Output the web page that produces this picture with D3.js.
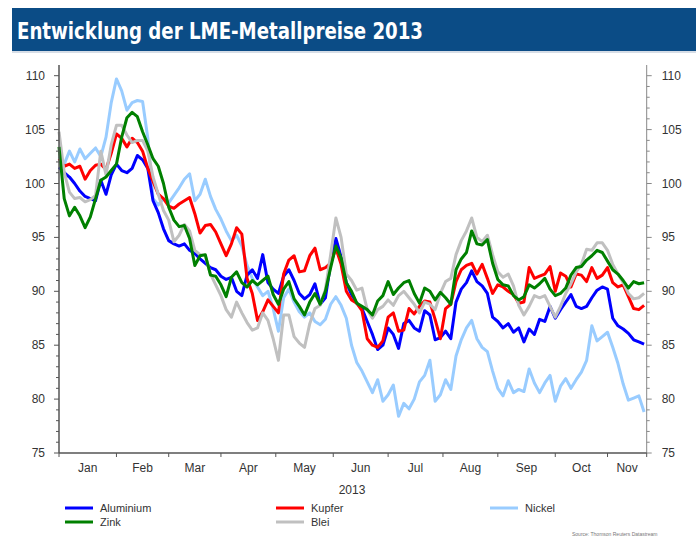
<!DOCTYPE html>
<html><head><meta charset="utf-8">
<script src="https://cdn.jsdelivr.net/npm/d3@7"></script>
<style>body{margin:0;background:#fff}svg{display:block}</style>
</head><body>
<script>
// ---- data (index = trading-day / 2) ----
const STEP = 2; // trading days between samples
const monthLabels = ["Jan","Feb","Mar","Apr","May","Jun","Jul","Aug","Sep","Oct","Nov"];
const monthStarts = [0,22,42,62,83,105,126,147,168,190,210];
const lastDay = 225;
const yTicks = [75,80,85,90,95,100,105,110];
const seriesNames = ["Aluminium","Kupfer","Nickel","Zink","Blei"];
const seriesColors = ["#0000ff","#ff0000","#99ccff","#008000","#c0c0c0"];

const aluminium = [101.5,101.0,100.6,100.0,99.3,98.8,98.6,98.4,100.3,99.0,100.8,101.8,101.2,101.0,101.4,102.6,102.2,101.4,98.4,97.3,95.8,94.7,94.4,94.2,94.4,93.8,93.5,93.0,92.6,92.2,92.0,91.4,91.1,91.3,90.0,89.6,91.5,92.0,91.2,93.4,90.8,90.2,89.8,91.4,92.0,91.0,89.8,89.3,89.7,90.7,88.8,89.4,92.6,94.9,93.2,90.8,89.7,88.9,88.4,87.2,86.0,84.6,85.0,86.6,86.0,84.7,87.0,87.3,86.6,86.3,88.2,87.8,85.5,85.7,86.3,85.6,89.0,90.2,90.8,91.9,90.9,90.5,89.8,87.6,87.2,86.6,87.0,86.2,86.6,85.3,86.5,86.0,87.4,87.2,88.6,87.5,88.3,89.0,89.7,88.6,88.4,88.6,89.4,90.1,90.4,90.2,87.5,86.8,86.5,86.1,85.5,85.3,85.1];
const kupfer = [102.3,101.6,101.8,101.4,101.6,100.4,101.2,101.7,101.8,101.3,102.8,104.6,104.2,103.4,104.2,103.8,103.0,101.4,100.2,99.0,98.6,97.9,97.7,98.1,98.4,98.7,97.2,95.4,96.1,96.2,95.5,94.4,93.3,94.4,95.9,95.3,91.2,89.8,87.3,88.1,89.2,88.6,88.0,91.6,92.9,93.3,91.8,91.9,93.3,94.0,92.0,92.2,92.6,94.0,92.5,90.0,89.2,88.9,88.2,85.6,85.0,84.8,85.4,87.6,88.0,86.3,86.4,88.4,87.9,88.6,89.1,89.0,87.4,85.6,88.4,88.8,90.9,92.0,92.4,92.6,91.6,92.5,91.2,89.8,90.6,90.4,90.0,89.7,88.9,89.0,92.2,91.2,91.4,91.6,92.3,90.0,91.7,91.4,90.4,91.6,91.5,90.9,92.2,91.2,91.5,92.2,90.8,90.4,90.6,89.5,88.4,88.3,88.7];
const nickel = [102.5,101.8,103.0,102.0,103.2,102.3,102.8,103.3,102.5,104.3,107.5,109.7,108.6,106.8,107.5,107.7,107.6,104.2,98.6,98.0,98.6,98.2,98.9,99.6,100.4,100.9,98.4,99.0,100.4,98.8,97.6,96.7,95.6,94.7,95.2,94.2,92.4,91.2,90.4,89.6,90.0,88.4,86.3,89.4,90.2,89.0,88.1,87.6,88.0,87.2,86.9,87.4,88.8,89.5,88.7,87.5,85.0,83.4,82.6,81.6,80.6,81.8,79.8,80.4,81.3,78.4,79.6,79.1,80.0,81.6,82.2,83.6,79.8,80.4,81.8,80.9,84.0,85.5,86.6,87.3,85.6,84.8,84.4,82.6,81.0,80.3,81.7,80.6,80.9,80.7,82.8,81.5,80.6,81.5,82.2,79.8,81.2,81.9,81.0,81.8,82.5,83.6,86.8,85.4,85.8,86.2,84.8,83.3,81.4,79.9,80.1,80.3,78.8];
const zink = [103.4,98.6,97.0,97.8,97.0,95.9,96.9,98.6,100.3,100.6,101.2,101.8,104.3,106.1,106.6,106.2,104.8,103.6,102.3,101.6,100.0,97.8,96.6,96.0,96.1,94.9,92.4,93.3,93.4,91.5,91.4,90.6,89.5,91.3,91.8,90.8,90.4,91.0,90.6,91.0,91.4,89.7,88.8,90.2,90.9,89.3,88.6,87.8,89.0,89.8,88.8,90.0,92.2,94.2,93.1,90.8,90.0,88.9,88.6,88.3,87.8,89.1,89.6,90.9,89.7,90.3,90.8,91.0,89.8,88.9,90.3,90.0,89.2,89.9,89.4,88.8,92.0,93.0,93.6,95.6,94.4,94.3,94.8,92.6,91.1,90.6,90.5,89.6,89.2,89.5,90.6,90.3,90.7,91.2,90.2,89.6,89.8,90.3,91.5,92.2,92.3,92.9,93.3,93.8,93.6,92.8,92.0,91.6,91.0,90.3,90.9,90.7,90.8];
const blei = [104.8,101.0,99.2,98.6,98.7,98.3,98.5,98.9,103.0,100.8,103.6,105.4,105.4,104.5,103.8,104.0,104.0,103.0,100.6,99.0,97.5,96.6,94.6,95.2,96.2,95.6,93.8,93.4,93.3,91.6,90.6,89.6,88.3,87.6,89.0,88.0,87.1,86.4,86.6,88.0,87.3,85.6,83.6,87.8,87.8,85.8,85.2,84.8,87.0,88.4,88.7,90.2,93.4,96.8,95.0,91.6,91.0,90.1,90.3,88.3,87.5,88.3,88.6,89.2,88.7,89.6,90.0,89.4,88.8,88.0,89.0,88.8,88.3,89.8,90.9,91.2,93.4,94.7,95.6,96.8,95.0,94.6,95.2,93.4,91.8,91.3,91.6,90.5,88.7,87.8,88.6,89.6,89.4,89.6,88.6,87.6,88.6,89.8,90.7,91.8,92.5,93.9,93.8,94.5,94.5,93.8,92.5,91.6,90.8,89.8,89.3,89.4,89.8];
const seriesData = [aluminium,kupfer,nickel,zink,blei];

// ---- drawing ----
const W = 696, H = 539;
const svg = d3.select("body").append("svg").attr("width",W).attr("height",H);

// title bar
svg.append("rect").attr("x",12).attr("y",51).attr("width",W-12).attr("height",2).attr("fill","#d6dde6");
svg.append("rect").attr("x",12).attr("y",8).attr("width",W-12).attr("height",43).attr("fill","#0b4c86");
svg.append("text").attr("x",17).attr("y",39)
  .attr("font-family","'Liberation Sans Narrow','DejaVu Sans Condensed','Roboto Condensed',Arial,sans-serif")
  .attr("font-weight","bold").attr("font-size",23).attr("fill","#fff")
  .attr("textLength",406).attr("lengthAdjust","spacingAndGlyphs")
  .text("Entwicklung der LME-Metallpreise 2013");

const x = d3.scaleLinear().domain([0,lastDay]).range([59,646.7]);
const y = d3.scaleLinear().domain([75,110]).range([453,75.7]);
const axisColor = "#555";
const font = "Arial, 'Liberation Sans', sans-serif";

// lines (draw order: nickel, aluminium, kupfer, blei, zink)
const line = d3.line().x((d,i)=>x(i*STEP)).y(d=>y(d)).curve(d3.curveLinear);
const order = [2,0,1,4,3];
order.forEach(k=>{
  svg.append("path").datum(seriesData[k]).attr("d",line)
    .attr("fill","none").attr("stroke",seriesColors[k]).attr("stroke-width",3)
    .attr("stroke-linejoin","round");
});

// y axes (left & right)
const minor = d3.range(75,111,1);
const gL = svg.append("g").attr("transform",`translate(${x(0)},0)`);
gL.append("line").attr("y1",65).attr("y2",453).attr("stroke",axisColor).attr("stroke-width",1.5);
gL.selectAll("line.mn").data(minor).join("line").attr("class","mn")
  .attr("x1",d=>d%5===0?-5:-3).attr("x2",0).attr("y1",d=>y(d)).attr("y2",d=>y(d))
  .attr("stroke",axisColor).attr("stroke-width",1);
gL.selectAll("text").data(yTicks).join("text")
  .attr("x",-14).attr("y",d=>y(d)+4).attr("text-anchor","end")
  .attr("font-family",font).attr("font-size",12).attr("fill","#333").text(d=>d);

const gR = svg.append("g").attr("transform",`translate(${x(lastDay)},0)`);
gR.append("line").attr("y1",65).attr("y2",453).attr("stroke","#888").attr("stroke-width",1);
gR.selectAll("line.mn").data(minor).join("line").attr("class","mn")
  .attr("x1",0).attr("x2",d=>d%5===0?5:3).attr("y1",d=>y(d)).attr("y2",d=>y(d))
  .attr("stroke","#888").attr("stroke-width",1);
gR.selectAll("text").data(yTicks).join("text")
  .attr("x",15).attr("y",d=>y(d)+4).attr("text-anchor","start")
  .attr("font-family",font).attr("font-size",12).attr("fill","#333").text(d=>d);

// x axis
const gX = svg.append("g");
gX.append("line").attr("x1",x(0)).attr("x2",x(lastDay)).attr("y1",453).attr("y2",453)
  .attr("stroke",axisColor).attr("stroke-width",1.5);
gX.selectAll("line.t").data(monthStarts.concat([lastDay])).join("line").attr("class","t")
  .attr("x1",d=>x(d)).attr("x2",d=>x(d)).attr("y1",453).attr("y2",457)
  .attr("stroke",axisColor).attr("stroke-width",1);
const ends = monthStarts.slice(1).concat([lastDay]);
gX.selectAll("text").data(monthLabels).join("text")
  .attr("x",(d,i)=>x((monthStarts[i]+ends[i])/2)).attr("y",472).attr("text-anchor","middle")
  .attr("font-family",font).attr("font-size",12).attr("fill","#333").text(d=>d);
svg.append("text").attr("x",352).attr("y",494).attr("text-anchor","middle")
  .attr("font-family",font).attr("font-size",12).attr("fill","#333").text("2013");

// legend
const legendPos = [[65,508],[276,508],[490,508],[65,522],[276,522]];
seriesNames.forEach((n,k)=>{
  const [lx,ly] = legendPos[k];
  svg.append("line").attr("x1",lx).attr("x2",lx+28).attr("y1",ly).attr("y2",ly)
    .attr("stroke",seriesColors[k]).attr("stroke-width",3);
  svg.append("text").attr("x",lx+35).attr("y",ly+4)
    .attr("font-family",font).attr("font-size",11).attr("fill","#333").text(n);
});

svg.append("text").attr("x",572).attr("y",536)
  .attr("font-family",font).attr("font-size",5).attr("fill","#777")
  .text("Source: Thomson Reuters Datastream");
</script>
</body></html>
